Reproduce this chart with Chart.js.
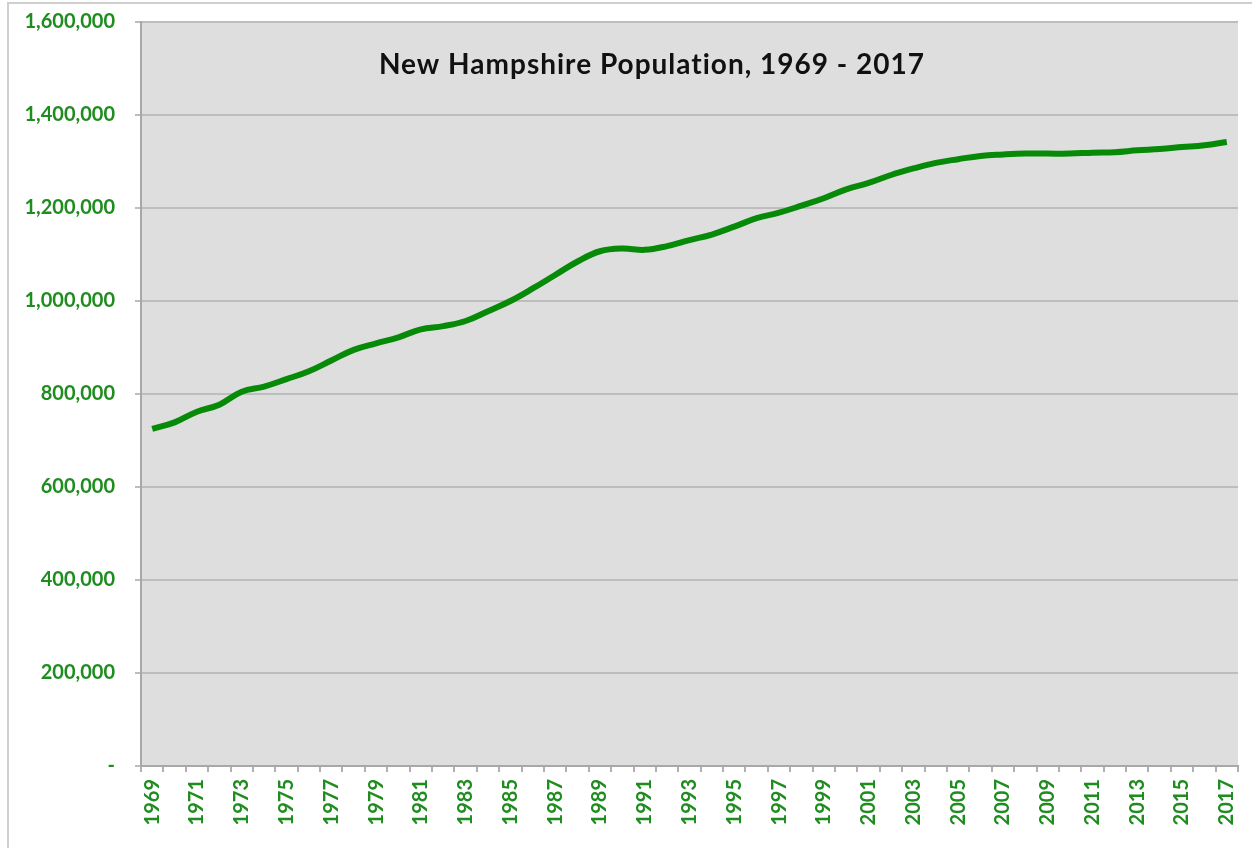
<!DOCTYPE html>
<html>
<head>
<meta charset="utf-8">
<script src="https://cdn.jsdelivr.net/npm/chart.js@4"></script>
<style>
  html, body { margin: 0; padding: 0; background: #fff; }
  #wrap { width: 1252px; height: 848px; position: relative; }
</style>
</head>
<body>
<div id="wrap"><canvas id="popchart" width="1252" height="848"></canvas></div>
<script>
// year labels 1969..2017
const years = ['1969','1970','1971','1972','1973','1974','1975','1976','1977','1978',
  '1979','1980','1981','1982','1983','1984','1985','1986','1987','1988',
  '1989','1990','1991','1992','1993','1994','1995','1996','1997','1998',
  '1999','2000','2001','2002','2003','2004','2005','2006','2007','2008',
  '2009','2010','2011','2012','2013','2014','2015','2016','2017'];

// population
const population = [725000, 739000, 762000, 777000, 805000, 816000, 832000, 849000, 872000, 895000,
  909000, 922000, 939000, 946000, 957000, 978000, 1000000, 1027000, 1056000, 1085000,
  1107000, 1113000, 1110000, 1118000, 1131000, 1143000, 1160000, 1178000, 1190000, 1205000,
  1221000, 1240000, 1254000, 1271000, 1285000, 1297000, 1305000, 1312000, 1315000, 1317000,
  1317000, 1317000, 1319000, 1320000, 1324000, 1327000, 1331000, 1335000, 1342000];

const yTicks = [0, 200000, 400000, 600000, 800000, 1000000, 1200000, 1400000, 1600000];

const chartTitle = 'New Hampshire Population, 1969 - 2017';
const tickGreen = '#1f8c1f';

// grey plot background, title inside the plot, light frame round the picture
const plotDeco = {
  id: 'plotDeco',
  beforeDraw(chart) {
    const ctx = chart.ctx, a = chart.chartArea;
    ctx.save();
    ctx.strokeStyle = '#cfcfcf';
    ctx.lineWidth = 2;
    ctx.strokeRect(8, 3, 1260, 900);
    ctx.fillStyle = '#dedede';
    ctx.fillRect(a.left, a.top, a.right - a.left, a.bottom - a.top);
    ctx.restore();
  },
  afterDatasetsDraw(chart) {
    const ctx = chart.ctx;
    ctx.save();
    ctx.fillStyle = '#111';
    ctx.font = 'bold 28px Lato';
    ctx.letterSpacing = '1px';
    ctx.textAlign = 'center';
    ctx.textBaseline = 'middle';
    ctx.fillText(chartTitle, 652, 65);
    ctx.restore();
  }
};

new Chart(document.getElementById('popchart'), {
  type: 'line',
  data: {
    labels: years,
    datasets: [{
      data: population,
      borderColor: '#078a07',
      borderWidth: 6,
      pointRadius: 0,
      tension: 0.4,
      fill: false
    }]
  },
  options: {
    responsive: false,
    animation: false,
    layout: { padding: { top: 22, right: 14, left: 0, bottom: 0 } },
    plugins: {
      legend: { display: false },
      tooltip: { enabled: false }
    },
    scales: {
      x: {
        offset: true,
        grid: { offset: true, drawOnChartArea: false, drawTicks: true, tickLength: 6, color: '#b0b0b0', lineWidth: 2 },
        border: { color: '#a8a8a8', width: 2 },
        ticks: {
          autoSkip: false,
          minRotation: 90,
          maxRotation: 90,
          padding: 7,
          color: tickGreen,
          font: { family: 'Lato', weight: 'bold', size: 20 },
          callback: function (v, i) { return i % 2 === 0 ? this.getLabelForValue(v) : ''; }
        },
        afterFit(scale) {
          scale.height = 82;
          scale.paddingLeft = 0;
          scale.paddingRight = 0;
        }
      },
      y: {
        min: 0,
        max: 1600000,
        afterBuildTicks(scale) { scale.ticks = yTicks.map(v => ({ value: v })); },
        grid: { color: '#bdbdbd', lineWidth: 2, tickLength: 6 },
        border: { color: '#a8a8a8', width: 2 },
        ticks: {
          padding: 20,
          color: tickGreen,
          font: { family: 'Lato', weight: 'bold', size: 20 },
          callback: v => v === 0 ? '-' : v.toLocaleString('en-US')
        },
        afterFit(scale) {
          scale.width = 141;
          scale.paddingTop = 0;
          scale.paddingBottom = 0;
        }
      }
    }
  },
  plugins: [plotDeco]
});
</script>
</body>
</html>
